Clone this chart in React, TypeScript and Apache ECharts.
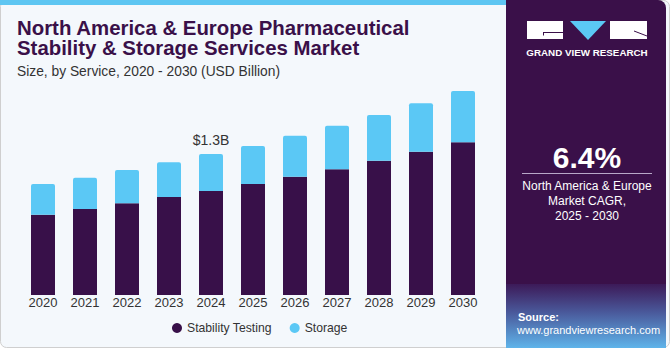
import React, { useEffect, useRef } from "react";
import * as echarts from "echarts";

const years = ["2020", "2021", "2022", "2023", "2024", "2025", "2026", "2027", "2028", "2029", "2030"];
const stabilityTesting = [0.74, 0.793, 0.845, 0.904, 0.959, 1.023, 1.091, 1.159, 1.238, 1.321, 1.408];
const storage = [0.283, 0.289, 0.308, 0.319, 0.341, 0.351, 0.378, 0.402, 0.422, 0.446, 0.473];
const labelYear = "2024";
const labelText = "$1.3B";

const DARK = "#381049";
const LIGHT = "#5bc8f5";

export default function App() {
  const ref = useRef<HTMLDivElement>(null);
  useEffect(() => {
    if (!ref.current) return;
    const chart = echarts.init(ref.current, null, { renderer: "svg" });
    const storageData = storage.map((v, i) =>
      years[i] === labelYear
        ? {
            value: v,
            label: {
              show: true,
              position: "top",
              distance: 7,
              formatter: labelText,
              fontSize: 14,
              color: "#333",
              fontFamily: "Liberation Sans, Arial, sans-serif",
            },
          }
        : v
    );
    chart.setOption({
      animation: false,
      backgroundColor: "transparent",
      textStyle: { fontFamily: "Liberation Sans, Arial, sans-serif" },
      grid: { left: 22, right: 187, top: 78.1, bottom: 55 },
      xAxis: {
        type: "category",
        data: years,
        axisLine: { show: false },
        axisTick: { show: false },
        axisLabel: { fontSize: 13, color: "#333", margin: 1 },
      },
      yAxis: { type: "value", min: 0, max: 2, show: false, splitLine: { show: false } },
      legend: {
        left: 167,
        top: 317,
        icon: "circle",
        itemWidth: 10,
        itemHeight: 10,
        itemGap: 18,
        textStyle: { fontSize: 12.2, color: "#333" },
        data: ["Stability Testing", "Storage"],
      },
      series: [
        {
          name: "Stability Testing",
          type: "bar",
          stack: "total",
          barWidth: 24,
          itemStyle: { color: DARK },
          data: stabilityTesting,
        },
        {
          name: "Storage",
          type: "bar",
          stack: "total",
          barWidth: 24,
          itemStyle: { color: LIGHT, borderRadius: [2, 2, 0, 0] },
          data: storageData,
        },
      ],
      graphic: [
        {
          type: "rect",
          z: -10,
          silent: true,
          shape: { x: 0.5, y: 0.5, width: 669, height: 347, r: 6 },
          style: { fill: "#f4f8fc", stroke: "#cfcfcf", lineWidth: 1 },
        },
        {
          type: "rect",
          z: -9,
          silent: true,
          shape: { x: 0, y: 0, width: 506, height: 5 },
          style: { fill: "#5ec6f2" },
        },
        {
          type: "rect",
          z: -8,
          silent: true,
          shape: { x: 506, y: 0, width: 160, height: 348, r: [0, 8, 0, 0] },
          style: { fill: "#3a1049" },
        },
        {
          type: "rect",
          z: -7,
          silent: true,
          shape: { x: 506, y: 284, width: 160, height: 64 },
          style: {
            fill: {
              type: "linear",
              x: 0,
              y: 0,
              x2: 0,
              y2: 1,
              colorStops: [
                { offset: 0, color: "#3c1a58" },
                { offset: 0.45, color: "#4a5a9c" },
                { offset: 1, color: "#5fb4ea" },
              ],
            },
          },
        },
        // logo
        { type: "rect", silent: true, shape: { x: 527, y: 21, width: 36, height: 18 }, style: { fill: "#ffffff" } },
        {
          type: "polygon",
          silent: true,
          shape: { points: [[570, 21], [606, 21], [588, 40]] },
          style: { fill: LIGHT },
        },
        { type: "rect", silent: true, shape: { x: 610, y: 21, width: 37, height: 18 }, style: { fill: "#ffffff" } },
        { type: "line", silent: true, shape: { x1: 543, y1: 32.5, x2: 563, y2: 32.5 }, style: { stroke: "#3a1049", lineWidth: 1 } },
        { type: "line", silent: true, shape: { x1: 543.5, y1: 32.5, x2: 543.5, y2: 35.5 }, style: { stroke: "#3a1049", lineWidth: 1 } },
        { type: "line", silent: true, shape: { x1: 634, y1: 31, x2: 647, y2: 36 }, style: { stroke: "#3a1049", lineWidth: 1 } },
        {
          type: "text",
          silent: true,
          style: {
            x: 587,
            y: 52,
            text: "GRAND VIEW RESEARCH",
            fill: "#ffffff",
            font: "bold 9.8px Liberation Sans, Arial, sans-serif",
            align: "center",
            verticalAlign: "middle",
          },
        },
        // CAGR
        {
          type: "text",
          silent: true,
          style: {
            x: 587,
            y: 157,
            text: "6.4%",
            fill: "#ffffff",
            font: "bold 30px Liberation Sans, Arial, sans-serif",
            align: "center",
            verticalAlign: "middle",
          },
        },
        { type: "line", silent: true, shape: { x1: 522, y1: 173.5, x2: 652, y2: 173.5 }, style: { stroke: "#b8a8c8", lineWidth: 1 } },
        {
          type: "text",
          silent: true,
          style: {
            x: 587,
            y: 201,
            text: "North America & Europe\nMarket CAGR,\n2025 - 2030",
            fill: "#ffffff",
            font: "12px Liberation Sans, Arial, sans-serif",
            lineHeight: 15,
            align: "center",
            verticalAlign: "middle",
          },
        },
        // source
        {
          type: "text",
          silent: true,
          style: {
            x: 518,
            y: 317,
            text: "Source:",
            fill: "#ffffff",
            font: "bold 11px Liberation Sans, Arial, sans-serif",
            align: "left",
            verticalAlign: "middle",
          },
        },
        {
          type: "text",
          silent: true,
          style: {
            x: 517,
            y: 329.5,
            text: "www.grandviewresearch.com",
            fill: "#ffffff",
            font: "11px Liberation Sans, Arial, sans-serif",
            align: "left",
            verticalAlign: "middle",
          },
        },
        // title
        {
          type: "text",
          silent: true,
          style: {
            x: 17,
            y: 18,
            text: "North America & Europe Pharmaceutical\nStability & Storage Services Market",
            fill: "#3a1049",
            font: "bold 20.4px Liberation Sans, Arial, sans-serif",
            lineHeight: 20,
            align: "left",
            verticalAlign: "top",
          },
        },
        {
          type: "text",
          silent: true,
          style: {
            x: 17,
            y: 71,
            text: "Size, by Service, 2020 - 2030 (USD Billion)",
            fill: "#333333",
            font: "13.8px Liberation Sans, Arial, sans-serif",
            align: "left",
            verticalAlign: "middle",
          },
        },
      ],
    });
    return () => chart.dispose();
  }, []);
  return <div ref={ref} style={{ width: 671, height: 350, position: "absolute", left: 0, top: 0 }} />;
}
